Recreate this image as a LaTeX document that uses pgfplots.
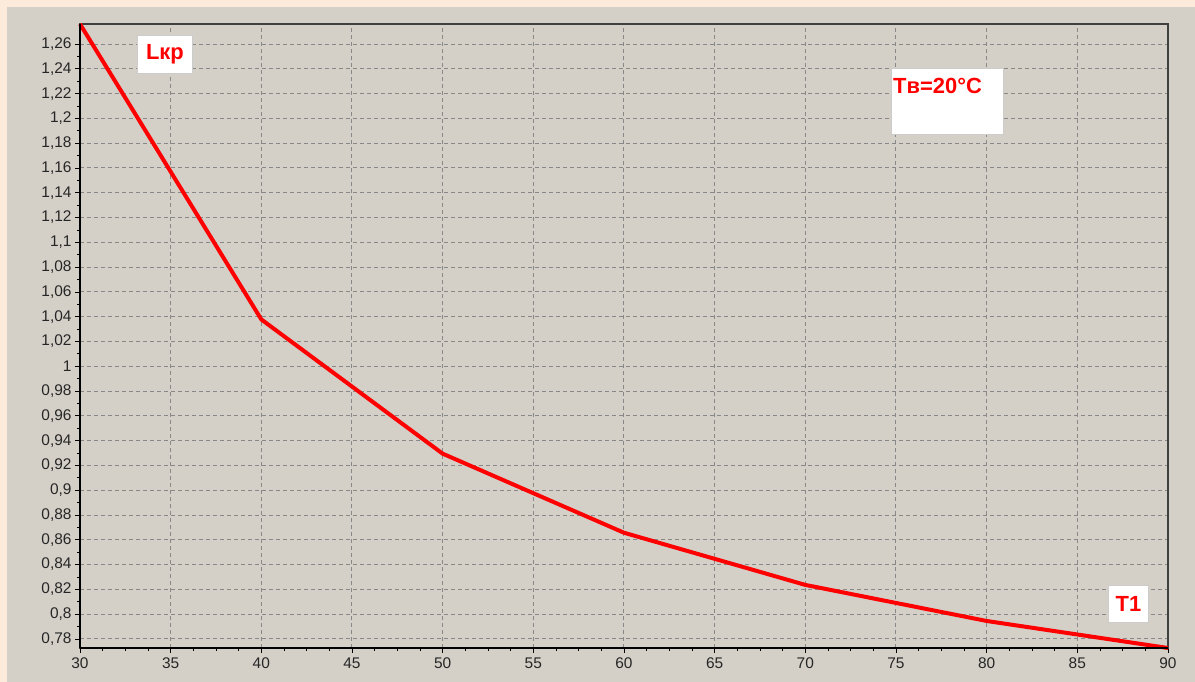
\documentclass[border=0pt]{standalone}
\usepackage{pgfplots}
\pgfplotsset{compat=1.18}
\usepackage{fontspec}
\setmainfont{Liberation Sans}
\definecolor{peach}{HTML}{FCEBDA}
\definecolor{panel}{HTML}{D4D0C8}
\definecolor{gridc}{HTML}{888888}
\begin{document}
\begin{tikzpicture}[x=1bp,y=1bp]
% background (pixel coords: x_px-80, 648-y_px)
\fill[peach] (-80,-34) rectangle (1115,648);
\fill[panel] (-73,-34) rectangle (1115,641);
\begin{axis}[
  at={(0,0)}, anchor=south west,
  scale only axis, width=1088bp, height=624bp,
  xmin=30, xmax=90, ymin=0.7727, ymax=1.2762,
  xtick={30,35,...,90},
  ytick={0.78,0.8,0.82,0.84,0.86,0.88,0.9,0.92,0.94,0.96,0.98,1,1.02,1.04,1.06,1.08,1.1,1.12,1.14,1.16,1.18,1.2,1.22,1.24,1.26},
  minor x tick num=3, minor y tick num=1,
  /pgf/number format/use comma,
  /pgf/number format/assume math mode=true,
  tick label style={font=\fontsize{15.5}{17}\selectfont, text=black!85},
  xticklabel style={yshift=-1bp},
  tick align=outside, major tick length=5bp, minor tick length=3bp,
  tick style={black, line width=0.8bp},
  xtick pos=bottom, ytick pos=left,
  grid=major,
  major grid style={gridc, line width=1bp, dash pattern=on 4bp off 3bp},
  axis line style={black!75, line width=1.2bp},
  axis background/.style={fill=panel},
  clip=false,
]
\addplot[red, line width=4bp, line join=round] coordinates {
  (30,1.2762) (40,1.0378) (50,0.9295) (60,0.8657) (70,0.8236) (80,0.7945) (90,0.7727)
};
\end{axis}
\draw[black, line width=2.8bp] (0,0) -- (0,624);
\draw[black, line width=2.8bp] (0,0) -- (1088,0);
% annotation boxes
\node[draw=black!20, fill=white, line width=0.8bp, minimum width=55bp, minimum height=38bp, inner sep=0pt, anchor=north west,
  text=red, font=\fontsize{22}{24}\selectfont\bfseries] at (57,613) {Lкр};
\node[draw=black!20, fill=white, line width=0.8bp, minimum width=112bp, minimum height=66bp, inner sep=0pt, anchor=north west] at (811,580) {};
\node[anchor=north west, inner sep=0pt, text=red, font=\fontsize{22}{24}\selectfont\bfseries] at (813,570) {Tв=20°C};
\node[draw=black!20, fill=white, line width=0.8bp, minimum width=40bp, minimum height=37bp, inner sep=0pt, anchor=north west,
  text=red, font=\fontsize{22}{24}\selectfont\bfseries] at (1028,63) {T1};
\end{tikzpicture}
\end{document}
